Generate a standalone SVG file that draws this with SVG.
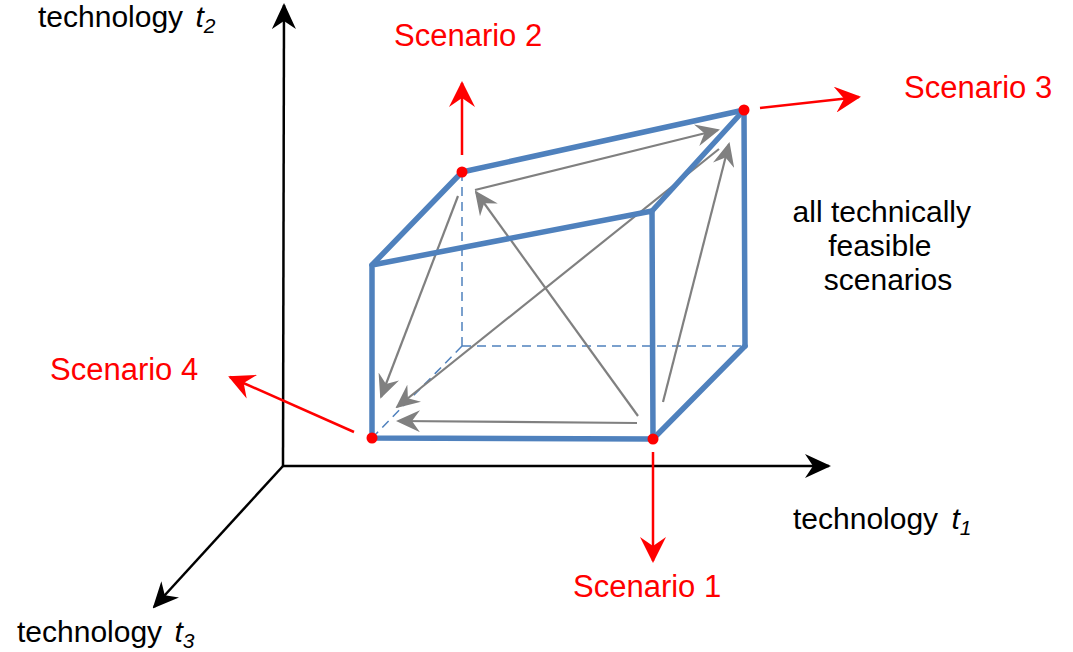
<svg xmlns="http://www.w3.org/2000/svg" width="1073" height="652" viewBox="0 0 1073 652">
  <style>
    .lbl { font-family: "Liberation Sans", Arial, sans-serif; font-size: 30px; fill: #000; }
    .scn { font-family: "Liberation Sans", Arial, sans-serif; font-size: 31px; fill: #ff0000; }
    .axis { stroke: #000; stroke-width: 2.5; fill: none; marker-end: url(#headBlack); }
    .edge { stroke: #4f81bd; stroke-width: 5.5; fill: none; stroke-linecap: round; stroke-linejoin: round; }
    .hidden { stroke: #4f81bd; stroke-width: 1.5; fill: none; stroke-dasharray: 9 6; }
    .path { stroke: #808080; stroke-width: 2.2; fill: none; marker-end: url(#headGray); }
    .out { stroke: #ff0000; stroke-width: 2.5; fill: none; marker-end: url(#headRed); }
    .dot { fill: #ff0000; }
  </style>
  <defs>
    <marker id="headBlack" markerUnits="userSpaceOnUse" markerWidth="26" markerHeight="24" viewBox="0 0 26 24" refX="24" refY="12" orient="auto">
      <path d="M0,0 L26,12 L0,24 L8,12 z" fill="#000"/>
    </marker>
    <marker id="headRed" markerUnits="userSpaceOnUse" markerWidth="26" markerHeight="26" viewBox="0 0 26 26" refX="24" refY="13" orient="auto">
      <path d="M0,0 L26,13 L0,26 L9,13 z" fill="#ff0000"/>
    </marker>
    <marker id="headGray" markerUnits="userSpaceOnUse" markerWidth="24" markerHeight="22" viewBox="0 0 24 22" refX="22" refY="11" orient="auto">
      <path d="M0,0 L24,11 L0,22 L8,11 z" fill="#808080"/>
    </marker>
  </defs>

  <!-- coordinate axes -->
  <g id="axes">
    <line class="axis" x1="283" y1="466" x2="284" y2="5"/>
    <line class="axis" x1="283" y1="466" x2="829" y2="466"/>
    <line class="axis" x1="283" y1="466" x2="154" y2="607"/>
  </g>

  <g id="axis-labels">
    <text class="lbl" x="38" y="27">technology <tspan font-style="italic" dx="4">t</tspan><tspan font-style="italic" font-size="21" dy="6">2</tspan></text>
    <text class="lbl" x="793" y="529">technology <tspan font-style="italic" dx="5">t</tspan><tspan font-style="italic" font-size="21" dy="6">1</tspan></text>
    <text class="lbl" x="17" y="642">technology <tspan font-style="italic" dx="4">t</tspan><tspan font-style="italic" font-size="21" dy="6">3</tspan></text>
  </g>

  <!-- feasible region: hidden edges -->
  <g id="region-hidden">
    <line class="hidden" x1="462" y1="346" x2="462" y2="176"/>
    <line class="hidden" x1="462" y1="346" x2="746" y2="346"/>
    <line class="hidden" x1="462" y1="346" x2="374" y2="436"/>
  </g>

  <!-- transitions between scenarios -->
  <g id="connectors">
    <line class="path" x1="475" y1="190" x2="718" y2="130"/>
    <line class="path" x1="638" y1="416" x2="476" y2="192"/>
    <line class="path" x1="458" y1="196" x2="381" y2="397"/>
    <line class="path" x1="719" y1="149" x2="397" y2="407"/>
    <line class="path" x1="663" y1="402" x2="729" y2="144"/>
    <line class="path" x1="637" y1="423" x2="398" y2="421"/>
  </g>

  <!-- feasible region: visible edges -->
  <g id="region">
    <polygon class="edge" points="372,265 652,211 653,439 372,438"/>
    <line class="edge" x1="372" y1="265" x2="462" y2="172"/>
    <line class="edge" x1="462" y1="172" x2="744" y2="110"/>
    <line class="edge" x1="652" y1="211" x2="744" y2="110"/>
    <line class="edge" x1="744" y1="110" x2="745" y2="346"/>
    <line class="edge" x1="653" y1="439" x2="745" y2="346"/>
  </g>

  <!-- extreme scenarios -->
  <g id="scenario-1">
    <line class="out" x1="653" y1="452" x2="653" y2="561"/>
    <circle class="dot" cx="653" cy="439" r="5.5"/>
    <text class="scn" x="573" y="597">Scenario 1</text>
  </g>
  <g id="scenario-2">
    <line class="out" x1="462" y1="155" x2="462" y2="83"/>
    <circle class="dot" cx="462" cy="172" r="5.5"/>
    <text class="scn" x="394" y="46">Scenario 2</text>
  </g>
  <g id="scenario-3">
    <line class="out" x1="760" y1="108" x2="859" y2="97"/>
    <circle class="dot" cx="744" cy="110" r="5.5"/>
    <text class="scn" x="904" y="98">Scenario 3</text>
  </g>
  <g id="scenario-4">
    <line class="out" x1="354" y1="432" x2="230" y2="377"/>
    <circle class="dot" cx="372" cy="438" r="5.5"/>
    <text class="scn" x="50" y="380">Scenario 4</text>
  </g>

  <g id="region-label">
    <text class="lbl" text-anchor="middle">
      <tspan x="886" y="222">all technically</tspan>
      <tspan x="884" y="256">feasible</tspan>
      <tspan x="888" y="290">scenarios</tspan>
    </text>
  </g>
</svg>
